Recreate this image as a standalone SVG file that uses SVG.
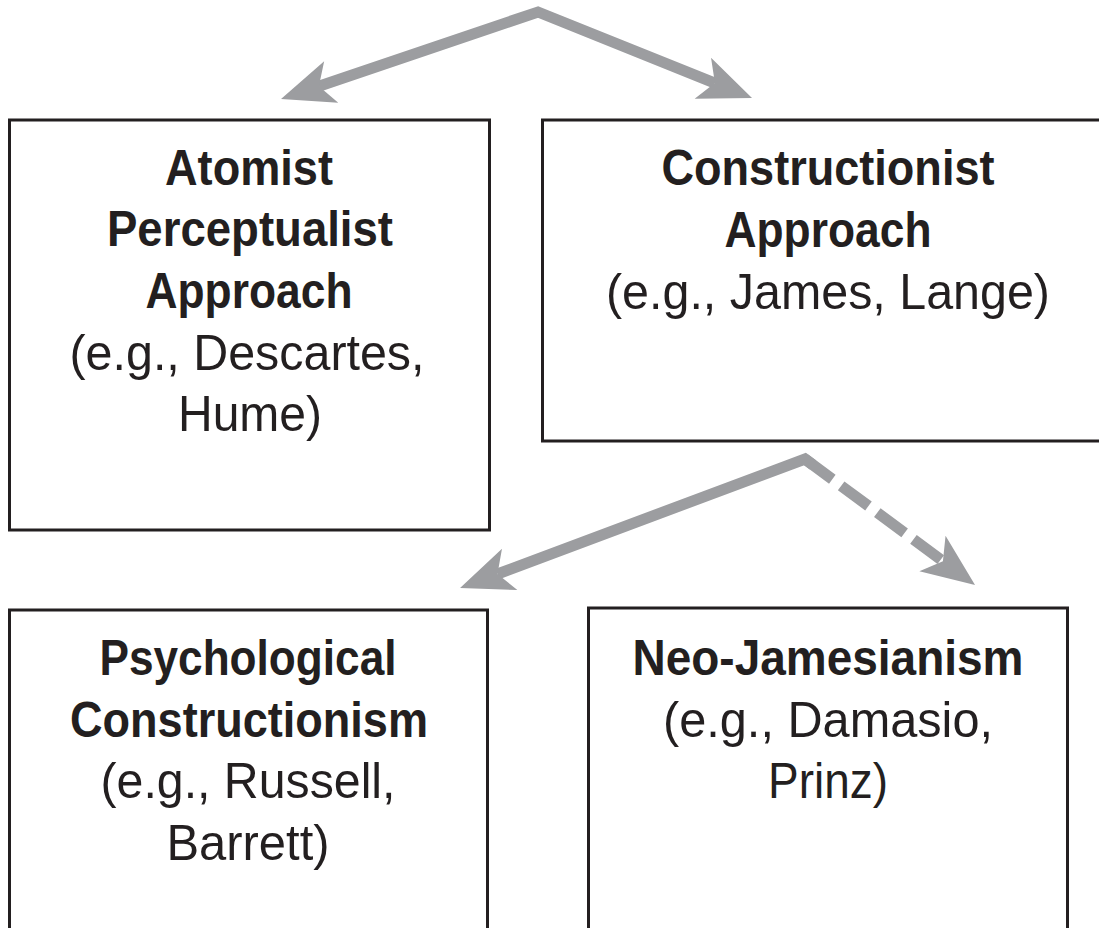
<svg xmlns="http://www.w3.org/2000/svg" width="1099" height="928" viewBox="0 0 1099 928">
<style>
.box{fill:#fff;stroke:#231f20;stroke-width:3}
.t{font-family:"Liberation Sans",Arial,sans-serif;font-size:50px;fill:#231f20;text-anchor:middle}
.b{font-weight:bold}
.conn{fill:none;stroke:#9c9da0;stroke-width:11;stroke-linejoin:miter;stroke-miterlimit:10}
.dash{stroke-dasharray:34 11}
</style>
<defs>
<marker id="ah" markerUnits="userSpaceOnUse" orient="auto-start-reverse" viewBox="-15 -25 57 50" markerWidth="57" markerHeight="50" refX="0" refY="0" overflow="visible">
<path d="M40,0 L-13,-22 L0,0 L-13,22 Z" fill="#9c9da0"/>
</marker>
</defs>
<rect width="1099" height="928" fill="#fff"/>
<g id="connectors">
<path class="conn" d="M318.9,86.2 L538,12 L714.9,83.1" marker-start="url(#ah)" marker-end="url(#ah)"/>
<path class="conn" d="M813,465 L805,459 L497.5,574" marker-end="url(#ah)"/>
<path class="conn dash" d="M805,459 L942.9,561.2" marker-end="url(#ah)"/>
</g>
<g id="atomist">
<rect class="box" x="9.5" y="120" width="480" height="410"/>
<text class="t b" x="249" y="185" textLength="168" lengthAdjust="spacingAndGlyphs">Atomist</text>
<text class="t b" x="250" y="246" textLength="286" lengthAdjust="spacingAndGlyphs">Perceptualist</text>
<text class="t b" x="249" y="308" textLength="207" lengthAdjust="spacingAndGlyphs">Approach</text>
<text class="t" x="247" y="370" textLength="355" lengthAdjust="spacingAndGlyphs">(e.g., Descartes,</text>
<text class="t" x="250" y="431" textLength="144" lengthAdjust="spacingAndGlyphs">Hume)</text>
</g>
<g id="constructionist">
<rect class="box" x="542.5" y="120" width="570" height="321"/>
<text class="t b" x="828" y="185" textLength="333" lengthAdjust="spacingAndGlyphs">Constructionist</text>
<text class="t b" x="828" y="247" textLength="207" lengthAdjust="spacingAndGlyphs">Approach</text>
<text class="t" x="828" y="309" textLength="444" lengthAdjust="spacingAndGlyphs">(e.g., James, Lange)</text>
</g>
<g id="psych">
<rect class="box" x="9.5" y="610" width="478" height="340"/>
<text class="t b" x="248" y="675" textLength="297" lengthAdjust="spacingAndGlyphs">Psychological</text>
<text class="t b" x="249" y="737" textLength="358" lengthAdjust="spacingAndGlyphs">Constructionism</text>
<text class="t" x="248" y="798" textLength="295" lengthAdjust="spacingAndGlyphs">(e.g., Russell,</text>
<text class="t" x="248" y="860" textLength="163" lengthAdjust="spacingAndGlyphs">Barrett)</text>
</g>
<g id="neojames">
<rect class="box" x="588.5" y="608" width="479" height="340"/>
<text class="t b" x="828" y="675" textLength="391" lengthAdjust="spacingAndGlyphs">Neo-Jamesianism</text>
<text class="t" x="828" y="737" textLength="330" lengthAdjust="spacingAndGlyphs">(e.g., Damasio,</text>
<text class="t" x="828" y="798" textLength="120" lengthAdjust="spacingAndGlyphs">Prinz)</text>
</g>
</svg>
